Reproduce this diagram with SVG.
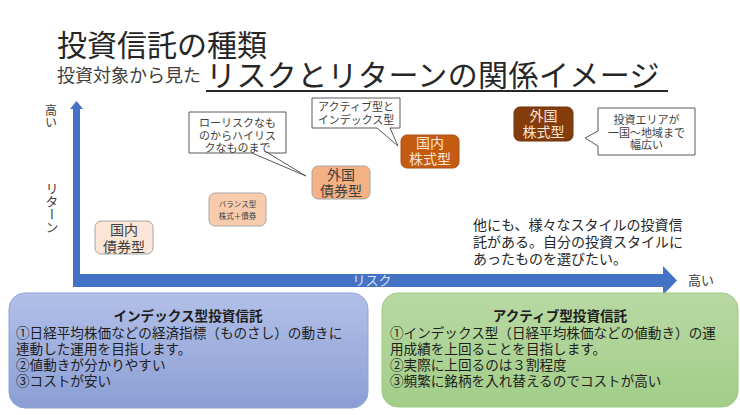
<svg xmlns="http://www.w3.org/2000/svg" width="740" height="415" viewBox="0 0 740 415">
<style>
text{font-family:"Noto Sans CJK JP","Noto Sans",sans-serif;}
.t{fill:#404040;}
.nd{stroke:#a6a6a6;stroke-width:1;}
.nt{font-size:14px;text-anchor:middle;fill:#404040;}
.nl{font-size:14px;text-anchor:middle;fill:#fbe5d6;}
.co{fill:#ffffff;stroke:#595959;stroke-width:1;}
.ct{font-size:11px;text-anchor:middle;fill:#404040;}
.bt{font-size:13.6px;fill:#1e1e1e;}
.bh{font-size:13.6px;font-weight:bold;text-anchor:middle;fill:#1e1e1e;}
.ax{fill:#4472c4;}
</style>
<defs>
<linearGradient id="gBlue" x1="0" y1="0" x2="0" y2="1">
<stop offset="0" stop-color="#b2c0e8"/>
<stop offset="1" stop-color="#8b9ed4"/>
</linearGradient>
<linearGradient id="gGreen" x1="0" y1="0" x2="0" y2="1">
<stop offset="0" stop-color="#b8d9a3"/>
<stop offset="1" stop-color="#a2cd88"/>
</linearGradient>
</defs>
<rect width="740" height="415" fill="#ffffff"/>

<g id="title">
<text x="57" y="56" font-size="30" fill="#262626">投資信託の種類</text>
<text x="57" y="82" font-size="18" fill="#404040">投資対象から見た</text>
<text x="206" y="86" font-size="30" fill="#262626" letter-spacing="0.4">リスクとリターンの関係イメージ</text>
<line x1="206" y1="91" x2="668" y2="91" stroke="#262626" stroke-width="2"/>
</g>

<g id="connectors">
<g id="axis-y">
<rect class="ax" x="73" y="108" width="7" height="179"/>
<polygon class="ax" points="70,109 76.5,101 83,109"/>
</g>
<g id="axis-x">
<rect class="ax" x="73" y="274" width="592" height="13"/>
<polygon class="ax" points="663,266 677,280.5 663,295"/>
<text x="372" y="285" font-size="13" fill="#dae3f3" text-anchor="middle">リスク</text>
</g>
</g>

<g id="axis-labels">
<text x="51" y="104" font-size="12" class="t" style="writing-mode:vertical-rl;">高い</text>
<text x="52" y="182" font-size="13" class="t" style="writing-mode:vertical-rl;">リターン</text>
<text x="688" y="285" font-size="13" class="t">高い</text>
</g>

<g id="node-kokunai-saiken">
<rect class="nd" x="95" y="221" width="58" height="33" rx="6" fill="#fbe5d6"/>
<text class="nt" x="124" y="235">国内</text>
<text class="nt" x="124" y="252">債券型</text>
</g>

<g id="node-balance">
<rect class="nd" x="209" y="193" width="57" height="33" rx="6" fill="#f8cbad"/>
<text x="237.5" y="207" font-size="7.5" text-anchor="middle" fill="#404040">バランス型</text>
<text x="237.5" y="219" font-size="7.5" text-anchor="middle" fill="#404040">株式＋債券</text>
</g>

<g id="node-gaikoku-saiken">
<rect class="nd" x="312" y="166" width="58" height="33" rx="6" fill="#f4b183"/>
<text class="nt" x="341" y="180">外国</text>
<text class="nt" x="341" y="196">債券型</text>
</g>

<g id="node-kokunai-kabu">
<rect x="401" y="135" width="58" height="33" rx="6" fill="#c55a11" stroke="#a9501a"/>
<text class="nl" x="430" y="148">国内</text>
<text class="nl" x="430" y="164">株式型</text>
</g>

<g id="node-gaikoku-kabu">
<rect x="514" y="107" width="59" height="34" rx="6" fill="#843c0c" stroke="#6e320a"/>
<text class="nl" x="543.5" y="121">外国</text>
<text class="nl" x="543.5" y="137">株式型</text>
</g>

<g id="callout-lowhigh">
<path class="co" d="M189,112 H286 V153 H268 L306,176 L252,153 H189 Z"/>
<text class="ct" x="237.5" y="127">ローリスクなも</text>
<text class="ct" x="237.5" y="140">のからハイリス</text>
<text class="ct" x="237.5" y="152">クなものまで</text>
</g>

<g id="callout-active-index">
<path class="co" d="M312,98 H400 V128 H390 L398,146 L377,128 H312 Z"/>
<text class="ct" x="356" y="111">アクティブ型と</text>
<text class="ct" x="356" y="124">インデックス型</text>
</g>

<g id="callout-area">
<path class="co" d="M598,108 H695 V155 H598 V146 L585,138 L598,131 Z"/>
<text class="ct" x="646.5" y="124">投資エリアが</text>
<text class="ct" x="646.5" y="137">一国〜地域まで</text>
<text class="ct" x="646.5" y="149">幅広い</text>
</g>

<g id="note">
<text x="473" y="230" font-size="14" fill="#262626">他にも、様々なスタイルの投資信</text>
<text x="473" y="247" font-size="14" fill="#262626">託がある。自分の投資スタイルに</text>
<text x="473" y="264" font-size="14" fill="#262626">あったものを選びたい。</text>
</g>

<g id="box-index">
<rect x="9" y="293" width="359" height="115" rx="16" fill="url(#gBlue)" stroke="#8fa3d8" stroke-width="1"/>
<text class="bh" x="188" y="321">インデックス型投資信託</text>
<text class="bt" x="16" y="338">①日経平均株価などの経済指標（ものさし）の動きに</text>
<text class="bt" x="16" y="354">連動した運用を目指します。</text>
<text class="bt" x="16" y="370">②値動きが分かりやすい</text>
<text class="bt" x="16" y="386">③コストが安い</text>
</g>

<g id="box-active">
<rect x="382" y="293" width="356" height="114" rx="16" fill="url(#gGreen)" stroke="#9cc983" stroke-width="1"/>
<text class="bh" x="560" y="321">アクティブ型投資信託</text>
<text class="bt" x="390" y="338">①インデックス型（日経平均株価などの値動き）の運</text>
<text class="bt" x="390" y="354">用成績を上回ることを目指します。</text>
<text class="bt" x="390" y="370">②実際に上回るのは３割程度</text>
<text class="bt" x="390" y="386">③頻繁に銘柄を入れ替えるのでコストが高い</text>
</g>
</svg>
